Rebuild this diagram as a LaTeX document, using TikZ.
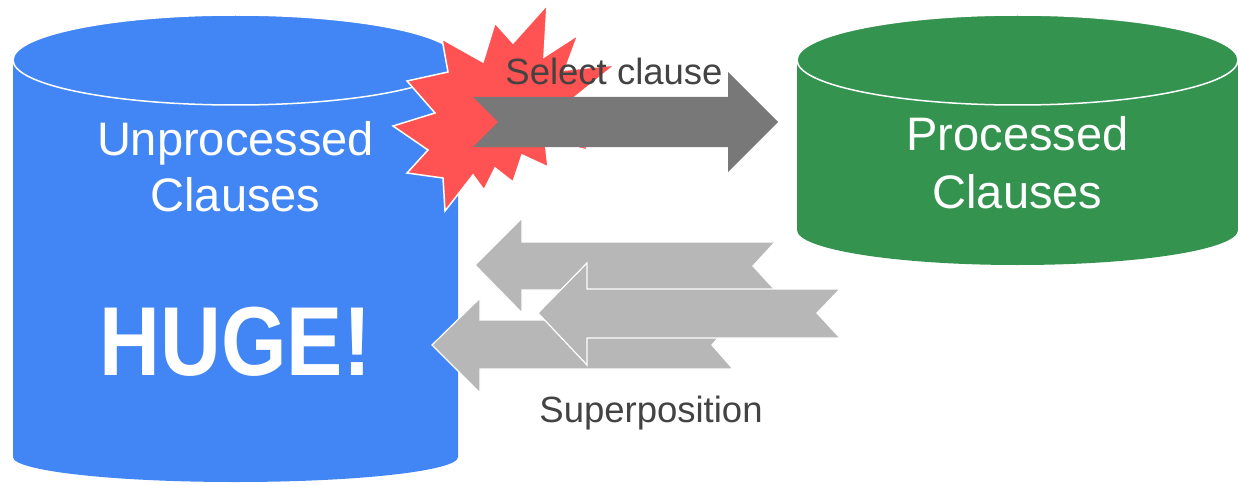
\documentclass[tikz,border=0pt]{standalone}
\usepackage{fontspec}
\setmainfont{Liberation Sans}
\usepackage{xcolor}
\usepackage{tikz}
\usetikzlibrary{calc}

\definecolor{dbblue}{HTML}{4285F4}
\definecolor{dbgreen}{HTML}{34934F}
\definecolor{burst}{HTML}{FF5252}
\definecolor{selgray}{HTML}{787878}
\definecolor{supgray}{HTML}{B7B7B7}
\definecolor{textgray}{HTML}{434343}

\begin{document}
\begin{tikzpicture}[
    x=1pt, y=1pt,
    every node/.style={inner sep=0pt, outer sep=0pt},
    dbtext/.style={text=white, font=\fontsize{47}{57}\selectfont, anchor=base},
    bigtext/.style={text=white, font=\fontsize{98}{98}\selectfont\bfseries, xscale=0.86, anchor=base},
    caption/.style={text=textgray, font=\fontsize{36.5}{40}\selectfont, anchor=base},
    rim/.style={draw=white, line width=1.5pt},
    selarrow/.style={fill=selgray},
    suparrow/.style={fill=supgray, draw=white, line width=1.2pt, line join=miter}
]
\useasboundingbox (0,0) rectangle (1238,-484);

% Unprocessed clauses (blue cylinder)
\coordinate (unproc) at (235.5,-60);
\fill[dbblue] (13,-60) -- (13,-457) arc[start angle=180, end angle=360, x radius=222.5, y radius=25] -- (458,-60) -- cycle;
\filldraw[fill=dbblue, rim] (unproc) ellipse[x radius=222.5, y radius=45];

% Burst
\filldraw[fill=burst, rim] (547,-5) -- (544,-57) -- (578,-35) -- (565,-70) -- (615,-65) -- (575,-97)
    -- (587,-150) -- (545,-140) -- (548,-167) -- (522,-155) -- (513,-182) -- (495,-168)
    -- (484,-190) -- (473,-175) -- (445,-211) -- (443,-178) -- (407,-173) -- (428,-150)
    -- (393,-126) -- (435,-113) -- (407,-81) -- (448,-72) -- (442,-39) -- (483,-62)
    -- (495,-23) -- (513,-43) -- cycle;

% Processed clauses (green cylinder)
\coordinate (proc) at (1017.5,-60);
\fill[dbgreen] (797,-60) -- (797,-230) arc[start angle=180, end angle=360, x radius=220.5, y radius=35] -- (1238,-60) -- cycle;
\filldraw[fill=dbgreen, rim] (proc) ellipse[x radius=220.5, y radius=45];

% Select clause arrow
\fill[selarrow] (473,-97) -- (728,-97) -- (728,-72) -- (778,-122) -- (728,-172) -- (728,-147)
    -- (473,-147) -- (498,-122) -- cycle;

% Superposition arrows
\filldraw[suparrow] (475,-265) -- (522,-218) -- (522,-242) -- (775,-242) -- (753,-266)
    -- (775,-290) -- (522,-290) -- (522,-313) -- cycle;
\filldraw[suparrow] (432,-345) -- (480,-298) -- (480,-320) -- (733,-320) -- (712,-345)
    -- (733,-369) -- (480,-369) -- (480,-393) -- cycle;
\filldraw[suparrow] (538,-313) -- (587,-263) -- (587,-289) -- (840,-289) -- (817,-313)
    -- (840,-338) -- (587,-338) -- (587,-365) -- cycle;

% Labels
\node[dbtext] (unproc1) at ($(unproc)+(0,-95)$) {Unprocessed};
\node[dbtext] (unproc2) at ($(unproc1.base)+(0,-56)$) {Clauses};
\node[bigtext] (huge) at ($(unproc)+(0,-315)$) {HUGE!};
\node[dbtext] (proc1) at ($(proc)+(0,-90)$) {Processed};
\node[dbtext] (proc2) at ($(proc1.base)+(0,-58)$) {Clauses};
\node[caption] (select) at (614,-85) {Select clause};
\node[caption] (superpos) at (651,-422) {Superposition};

\end{tikzpicture}
\end{document}
